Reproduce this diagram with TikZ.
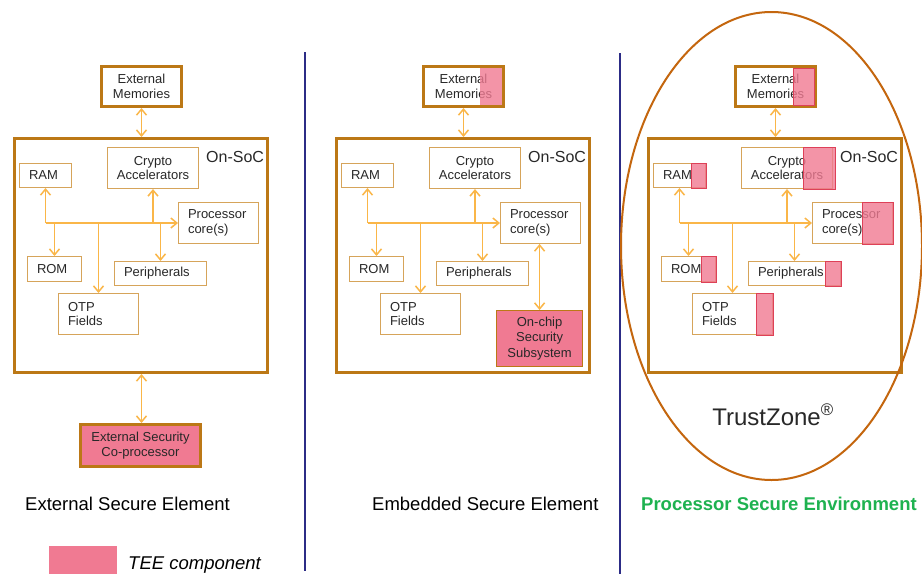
\documentclass[tikz,border=0pt]{standalone}
\usepackage{fontspec}
\setmainfont{Liberation Sans}
\usetikzlibrary{arrows.meta}

\definecolor{socbrown}{RGB}{188,120,22}
\definecolor{boxtan}{RGB}{214,164,90}
\definecolor{busorange}{RGB}{250,182,72}
\definecolor{teepink}{RGB}{240,122,146}
\definecolor{teered}{RGB}{222,64,88}
\definecolor{zonebrown}{RGB}{196,102,14}
\definecolor{divnavy}{RGB}{44,44,134}
\definecolor{envgreen}{RGB}{30,178,80}
\definecolor{inktext}{RGB}{40,40,40}

\tikzset{
  unit box/.style={draw=boxtan, line width=1pt, inner sep=0pt, anchor=north west,
    text=inktext, font=\fontsize{13}{14.5}\selectfont, align=center},
  left box/.style={unit box, align=left, inner xsep=9.5pt},
  thick box/.style={unit box, draw=socbrown, line width=3pt},
  bus/.style={draw=busorange, line width=1.5pt, -{Straight Barb[length=6pt,width=10pt]}},
  link/.style={draw=busorange, line width=1.5pt,
    {Straight Barb[length=6pt,width=10pt]}-{Straight Barb[length=6pt,width=10pt]}},
  tee/.style={fill=teepink, fill opacity=0.8, draw=teered, line width=0.8pt},
  title/.style={anchor=base west, inner sep=0pt, font=\fontsize{18.5}{20}\selectfont},
}

% One SoC block: external memory, SoC frame, internal units and bus
\newcommand\socpanel{%
  \node[thick box, minimum width=80pt, minimum height=40pt] (em) at (100,65) {External\\Memories};
  \node[thick box, minimum width=253pt, minimum height=234pt] (soc) at (13,137) {};
  \node[anchor=base west, inner sep=0pt, text=inktext, font=\fontsize{16}{18}\selectfont]
    (lbl) at (206,162) {On-SoC};
  \node[left box, text width=33pt, minimum height=24pt] (ram) at (19,163) {RAM};
  \node[unit box, minimum width=91pt, minimum height=41pt] (cry) at (107,147) {Crypto\\Accelerators};
  \node[left box, text width=61pt, minimum height=41pt] (pro) at (178,202) {Processor\\core(s)};
  \node[left box, text width=35pt, minimum height=25pt] (rom) at (27,256) {ROM};
  \node[left box, text width=73pt, minimum height=24pt] (per) at (114,261) {Peripherals};
  \node[left box, text width=61pt, minimum height=41pt] (otp) at (58,293) {OTP\\Fields};
  \coordinate (busL) at (45.5,223);
  \draw[bus] (busL) -- (busL -| pro.west);
  \draw[bus] (ram.south |- busL) -- (ram.south);
  \draw[bus] (rom.north |- busL) -- (rom.north);
  \draw[bus] (otp.north |- busL) -- (otp.north);
  \draw[bus] (cry.south |- busL) -- (cry.south);
  \draw[bus] (per.north |- busL) -- (per.north);
  \draw[link] (em.south) -- (em.south |- soc.north);
}

\begin{document}
\begin{tikzpicture}[x=1pt, y=-1pt]
  \useasboundingbox[fill=white] (0,0) rectangle (922,574);

  % column separators
  \draw[divnavy, line width=2pt] (304.5,52) -- (304.5,571);
  \draw[divnavy, line width=2pt] (619.5,53) -- (619.5,574);

  % external secure element
  \begin{scope}[name prefix=p1-]
    \socpanel
    \node[thick box, fill=teepink, minimum width=120pt, minimum height=42pt] (esc) at (79,423)
      {External Security\\Co-processor};
    \draw[link] (em.south |- soc.south) -- (em.south |- esc.north);
  \end{scope}

  % embedded secure element
  \begin{scope}[xshift=322pt, name prefix=p2-]
    \socpanel
    \fill[teepink, fill opacity=0.8] (158,68) rectangle (180,105);
    \node[unit box, draw=socbrown, line width=1.2pt, fill=teepink, minimum width=86pt,
      minimum height=56pt, font=\fontsize{13}{15.5}\selectfont] (osc) at (174,310)
      {On-chip\\Security\\Subsystem};
    \draw[link] (osc.north |- pro.south) -- (osc.north);
  \end{scope}

  % processor secure environment
  \begin{scope}[xshift=634pt, name prefix=p3-]
    \socpanel
    \path[tee] (159,68) rectangle (180,105);
    \path[tee] ([xshift=-15pt]ram.north east) rectangle (ram.south east);
    \path[tee] ([xshift=-30pt]cry.north east) rectangle ([xshift=2pt]cry.south east);
    \path[tee] ([xshift=-31pt]pro.north east) rectangle (pro.south east);
    \path[tee] ([xshift=-15pt]rom.north east) rectangle (rom.south east);
    \path[tee] ([xshift=-16pt]per.north east) rectangle (per.south east);
    \path[tee] ([xshift=-17pt]otp.north east) rectangle (otp.south east);
  \end{scope}

  % TrustZone boundary
  \draw[zonebrown, line width=2pt] (771.5,246) ellipse [x radius=150.5, y radius=234];
  \node[anchor=base, inner sep=0pt, text=inktext, font=\fontsize{24}{26}\selectfont]
    (tz) at (773,425) {TrustZone\textsuperscript{®}};

  % column titles
  \node[title] (t1) at (25,510.5) {External Secure Element};
  \node[title] (t2) at (372,510.5) {Embedded Secure Element};
  \node[title, text=envgreen, font=\fontsize{18.5}{20}\selectfont\bfseries] (t3) at (641,510.5)
    {Processor Secure Environment};

  % legend
  \fill[teepink] (49,546) rectangle (117,574);
  \node[anchor=base west, inner sep=0pt, font=\fontsize{18.5}{20}\selectfont\itshape]
    (leg) at (128,569) {TEE component};
\end{tikzpicture}
\end{document}
